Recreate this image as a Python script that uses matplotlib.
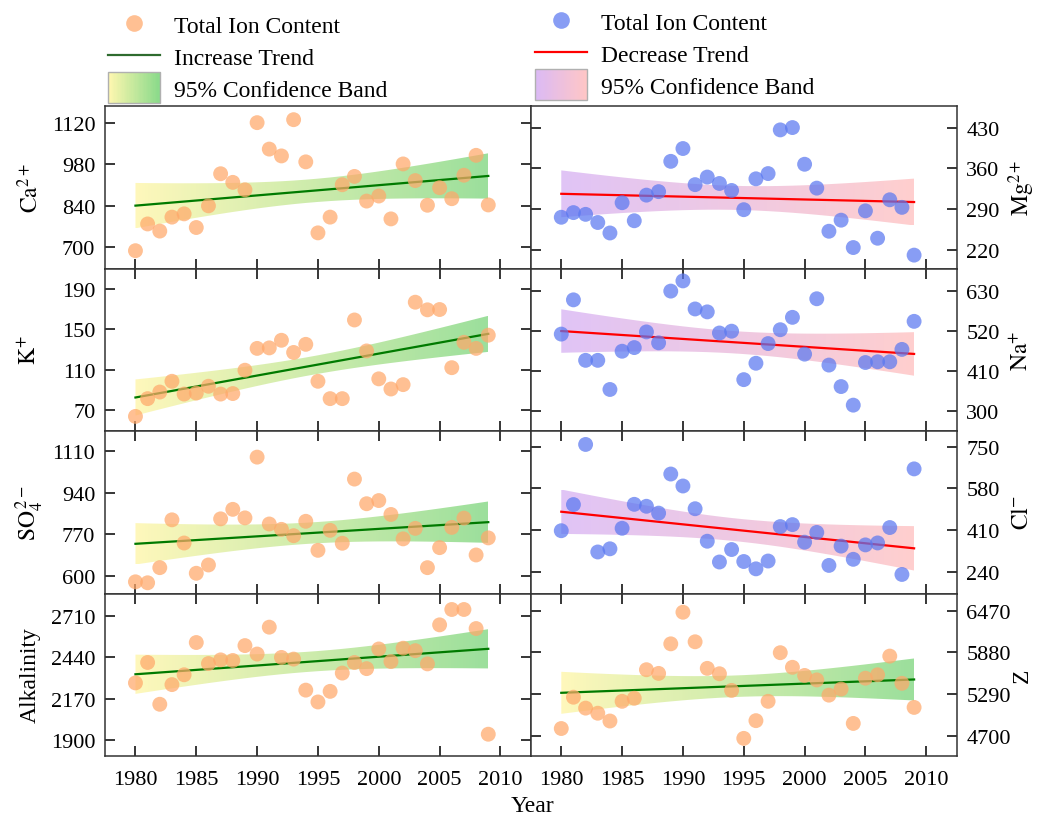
import numpy as np
import matplotlib
matplotlib.use("Agg")
import matplotlib.pyplot as plt
from matplotlib.lines import Line2D
from matplotlib.patches import Rectangle
from matplotlib.legend_handler import HandlerBase
from matplotlib.colors import to_rgb

plt.rcParams["font.family"] = ["Liberation Serif", "DejaVu Serif"]
plt.rcParams["mathtext.fontset"] = "stix"
plt.rcParams["font.size"] = 16

years = list(range(1980, 2010))

ca = [689, 779, 755, 802, 813, 767, 840, 948, 919, 894, 1120, 1031, 1008, 1130, 988,
      749, 802, 911, 939, 856, 873, 796, 981, 925, 842, 901, 864, 943, 1010, 843]
mg = [276, 284, 281, 267, 249, 301, 270, 314, 320, 372, 394, 332, 345, 334, 322,
      289, 342, 351, 426, 430, 367, 326, 252, 271, 224, 287, 240, 306, 293, 211]
k = [64, 81.5, 88, 98.6, 86, 87, 93.7, 86, 86.5, 109.5, 131, 131.5, 139, 127, 135,
     98.6, 81.5, 81.5, 159, 128.5, 101, 91, 95.3, 176.5, 169, 169.3, 112, 137, 131, 144]
na = [512, 606, 440, 440, 360, 465, 475, 518, 488, 630, 658, 581, 573, 515, 520,
      387, 432, 486, 524, 558, 457, 609, 427, 368, 317, 434, 436, 436, 470, 547]
so4 = [575, 571, 633, 829, 734, 610, 644, 833, 872, 837, 1086, 812, 790, 764, 823,
       704, 786, 733, 996, 895, 908, 851, 751, 794, 633, 715, 798, 836, 685, 755]
cl = [407, 514, 760, 320, 333, 417, 515, 507, 479, 639, 590, 497, 364, 279, 330,
      281, 251, 283, 424, 432, 360, 400, 265, 344, 290, 349, 357, 420, 228, 660]
alk = [2274, 2407, 2135, 2263, 2327, 2537, 2400, 2424, 2420, 2517, 2462, 2637, 2440, 2429, 2227,
       2150, 2219, 2338, 2407, 2367, 2495, 2413, 2500, 2484, 2398, 2652, 2752, 2752, 2628, 1940]
z = [4805, 5247, 5093, 5021, 4911, 5189, 5232, 5635, 5583, 6000, 6446, 6029, 5654, 5578, 5343,
     4666, 4916, 5189, 5875, 5669, 5554, 5491, 5276, 5362, 4877, 5515, 5563, 5827, 5443, 5103]

# (values, label, yticks, ylim, increasing?)
panels = [
    [(ca, r"$\mathrm{Ca}^{2+}$", [700, 840, 980, 1120], (629, 1176), True),
     (mg, r"$\mathrm{Mg}^{2+}$", [220, 290, 360, 430], (188, 467), False)],
    [(k, r"$\mathrm{K}^{+}$", [70, 110, 150, 190], (49.6, 209.7), True),
     (na, r"$\mathrm{Na}^{+}$", [300, 410, 520, 630], (246, 692), False)],
    [(so4, r"$\mathrm{SO}_4^{\,2-}$", [600, 770, 940, 1110], (527, 1193), True),
     (cl, r"$\mathrm{Cl}^{-}$", [240, 410, 580, 750], (150, 815), False)],
    [(alk, "Alkalinity", [1900, 2170, 2440, 2710], (1798, 2856), True),
     (z, "Z", [4700, 5290, 5880, 6470], (4417, 6710), True)],
]

orange = "#FFA86A"
blue = "#5A78F0"
inc_band = ("#FFF7B0", "#8ADA8A")
dec_band = ("#DBBAF5", "#FFC6C6")


def gradient_band(ax, x, lo, hi, cols):
    poly = ax.fill_between(x, lo, hi, color="none", lw=0)
    c0 = np.array(to_rgb(cols[0]))
    c1 = np.array(to_rgb(cols[1]))
    t = np.linspace(0, 1, 256)
    img = (c0[None, :] * (1 - t[:, None]) + c1[None, :] * t[:, None])[None, :, :]
    im = ax.imshow(img, extent=[x[0], x[-1], min(lo), max(hi)], aspect="auto",
                   origin="lower", alpha=0.85, zorder=1)
    im.set_clip_path(poly.get_paths()[0], transform=ax.transData)


fig = plt.figure(figsize=(10.41, 8.2), dpi=100)
gs = fig.add_gridspec(4, 2, left=0.1009, right=0.919, top=0.8695, bottom=0.0768,
                      wspace=0, hspace=0)

xs = np.array(years, dtype=float)
for r in range(4):
    for c in range(2):
        vals, lab, yt, yl, inc = panels[r][c]
        ax = fig.add_subplot(gs[r, c])
        y = np.array(vals, dtype=float)
        n = len(xs)
        b, a = np.polyfit(xs, y, 1)
        fit = a + b * xs
        s = np.sqrt(np.sum((y - fit) ** 2) / (n - 2))
        sxx = np.sum((xs - xs.mean()) ** 2)
        se = s * np.sqrt(1 / n + (xs - xs.mean()) ** 2 / sxx)
        ci = 2.048 * se
        gradient_band(ax, xs, fit - ci, fit + ci, inc_band if inc else dec_band)
        ax.plot(xs, fit, color="#007A00" if inc else "#FF0000", lw=1.6, zorder=3)
        ax.scatter(xs, y, s=115, color=orange if inc else blue, alpha=0.72,
                   edgecolors="none", zorder=4)
        ax.set_xlim(1977.5, 2012.5)
        ax.set_ylim(*yl)
        ax.set_xticks(range(1980, 2011, 5))
        ax.set_yticks(yt)
        ax.tick_params(axis="x", direction="in", length=7, width=1.1, bottom=True,
                       top=(r > 0), labelbottom=(r == 3), labelsize=16, pad=10)
        ax.tick_params(axis="y", direction="in", length=7, width=1.1, left=True,
                       right=True, labelleft=(c == 0), labelright=(c == 1),
                       labelsize=16, pad=7)
        for sp in ax.spines.values():
            sp.set_color("#333333")
            sp.set_linewidth(1.1)
        yc = 1 - (107 + 162.5 * r + 81) / 820
        if c == 0:
            fig.text(30 / 1041, yc, lab, rotation=90, ha="center", va="center", fontsize=17)
        else:
            fig.text(1022 / 1041, yc, lab, rotation=90, ha="center", va="center", fontsize=17)

fig.text(532 / 1041, 1 - 807 / 820, "Year", ha="center", va="center", fontsize=17)


class GradientHandler(HandlerBase):
    def __init__(self, cols):
        super().__init__()
        self.cols = cols

    def create_artists(self, legend, orig_handle, xdescent, ydescent, width, height,
                       fontsize, trans):
        c0 = np.array(to_rgb(self.cols[0]))
        c1 = np.array(to_rgb(self.cols[1]))
        nseg = 40
        h = height * 1.9
        y0 = -ydescent + height / 2 - h / 2
        arts = []
        for i in range(nseg):
            t = i / (nseg - 1)
            col = c0 * (1 - t) + c1 * t
            arts.append(Rectangle((-xdescent + i * width / nseg, y0), width / nseg + 0.5, h,
                                  facecolor=col, edgecolor="none", transform=trans))
        arts.append(Rectangle((-xdescent, y0), width, h, facecolor="none",
                              edgecolor="#B0B0B0", lw=1.0, transform=trans))
        return arts


class BandKey:
    pass


inc_key = BandKey()
dec_key = BandKey()

h_left = [Line2D([], [], ls="none", marker="o", ms=12, color=orange, alpha=0.72, mec="none"),
          Line2D([], [], color="#2E6B2E", lw=1.6),
          inc_key]
h_right = [Line2D([], [], ls="none", marker="o", ms=12, color=blue, alpha=0.72, mec="none"),
           Line2D([], [], color="#FF0000", lw=1.6),
           dec_key]

common = dict(frameon=False, fontsize=17, handlelength=2.2, handletextpad=0.6,
              labelspacing=0.45, borderpad=0, borderaxespad=0, loc="upper left")
fig.legend(h_left, ["Total Ion Content", "Increase Trend", "95% Confidence Band"],
           bbox_to_anchor=(108 / 1041, 1 - 16 / 820),
           handler_map={inc_key: GradientHandler(inc_band)}, **common)
fig.legend(h_right, ["Total Ion Content", "Decrease Trend", "95% Confidence Band"],
           bbox_to_anchor=(535 / 1041, 1 - 13 / 820),
           handler_map={dec_key: GradientHandler(dec_band)}, **common)

fig.savefig("out.png", dpi=100)
